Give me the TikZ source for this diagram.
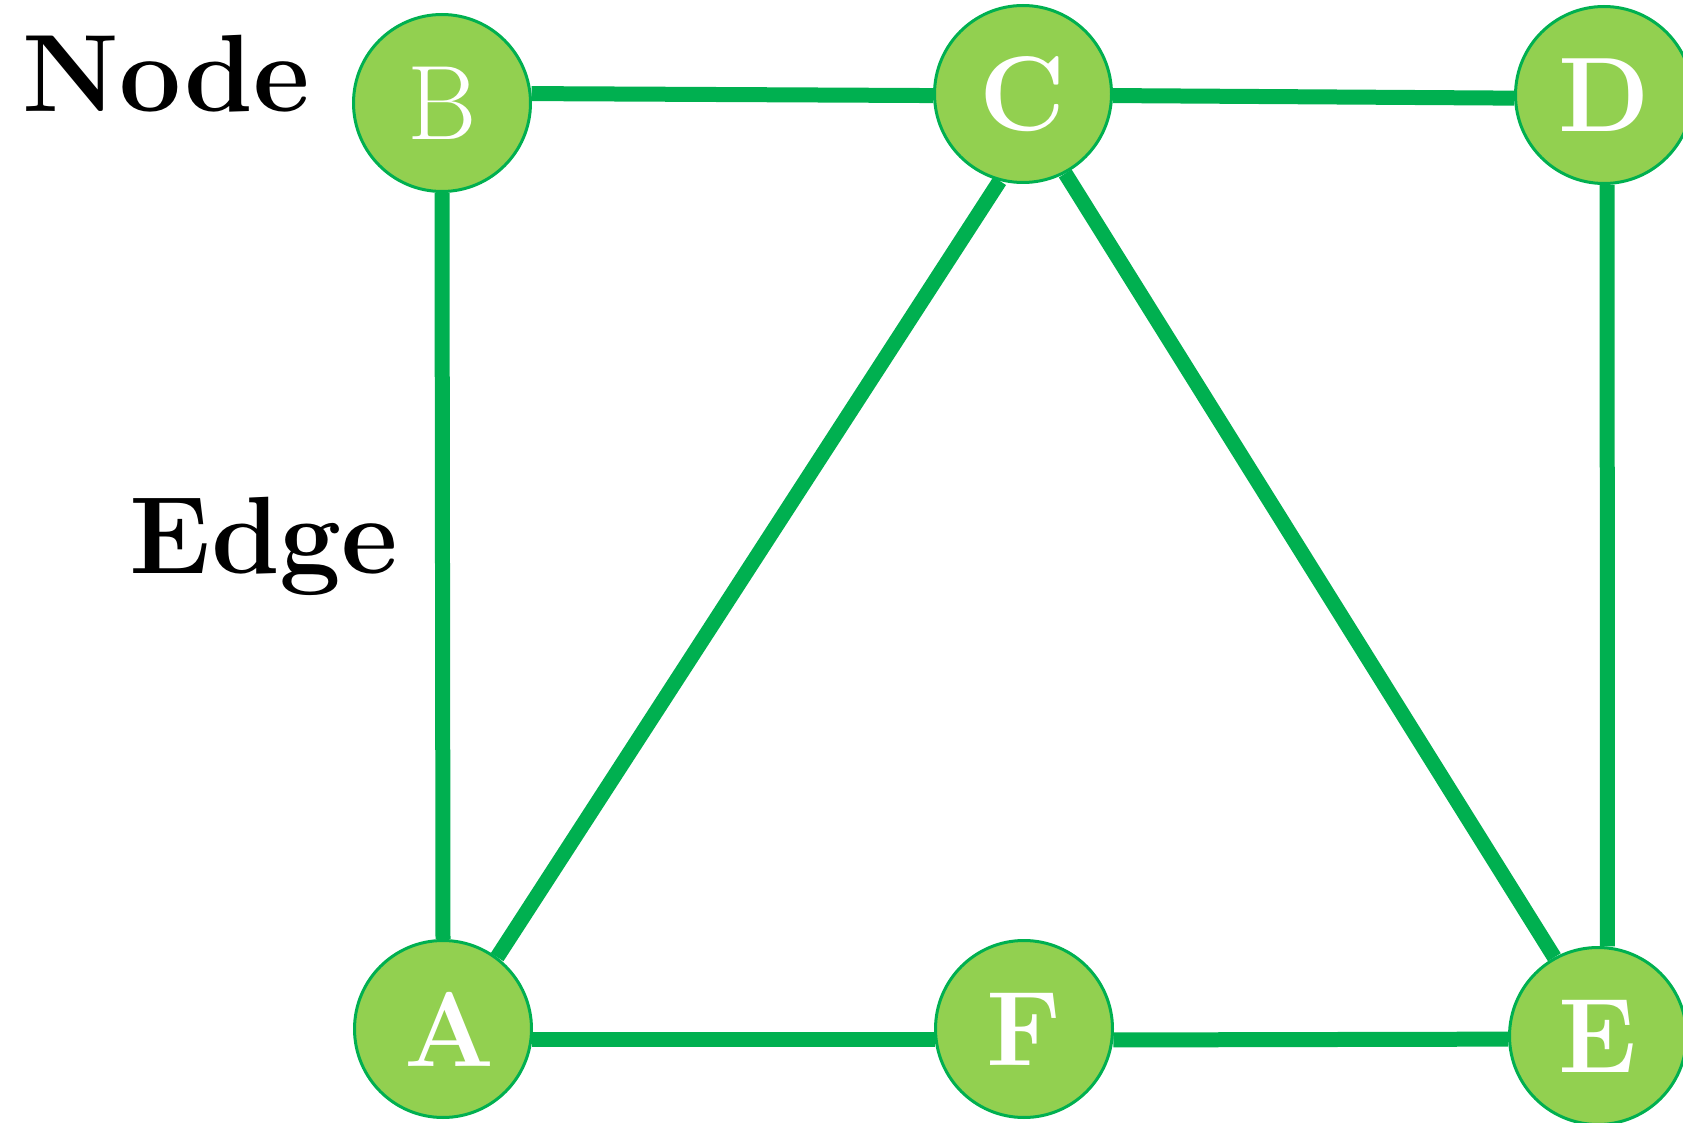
\documentclass[tikz,border=0pt]{standalone}
\usetikzlibrary{backgrounds}
\definecolor{nodefill}{HTML}{92D050}
\definecolor{edgegreen}{HTML}{00B050}
\begin{document}
\begin{tikzpicture}[x=0.5pt,y=-0.5pt,
  vertex/.style={circle,fill=nodefill,draw=edgegreen,line width=1.5pt,minimum size=88.5pt,inner sep=0pt,text=white,font=\fontsize{53}{53}\selectfont\bfseries},
  link/.style={draw=edgegreen,line width=7.5pt},
  caption/.style={anchor=base,font=\fontsize{55}{55}\selectfont\bfseries}]
\useasboundingbox (0,0) rectangle (1683,1123);
\node[vertex,font=\fontsize{53}{53}\selectfont] (B) at (442,103) {B};
\node[vertex] (C) at (1023,94) {C};
\node[vertex] (D) at (1604,95) {D};
\node[vertex] (A) at (443,1029) {\hspace{7pt}A};
\node[vertex] (F) at (1024,1029) {F};
\node[vertex] (E) at (1598,1036) {E};
\node[caption] (nodelbl) at (166,112) {Node};
\node[caption] (edgelbl) at (264,573) {Edge};
\begin{scope}[on background layer]
\draw[link] (B.6) -- (C.181);
\draw[link] (C.-1) -- (D.182);
\draw[link] (B.south) -- (A.north);
\draw[link] (C.255) -- (A.53);
\draw[link] (C.298) -- (E.119);
\draw[link] (D.-88) -- (E.84);
\draw[link] (A.-7) -- (F.187);
\draw[link] (F.-7) -- (E.182);
\end{scope}
\end{tikzpicture}
\end{document}
